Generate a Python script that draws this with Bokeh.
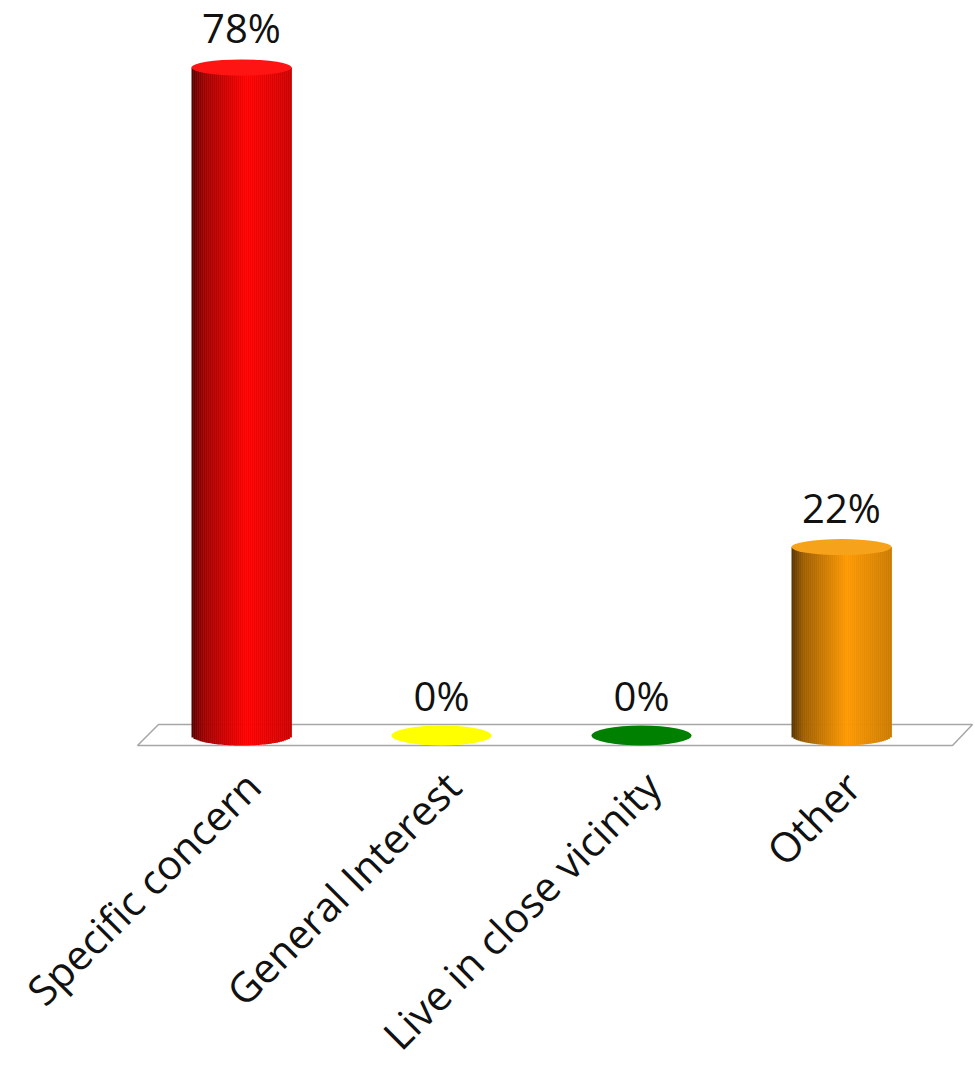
import numpy as np
from bokeh.plotting import figure
from bokeh.models import Range1d, ColumnDataSource
from bokeh.core.properties import value
from bokeh.embed import file_html
from bokeh.resources import INLINE

# ---- data ----
categories = ["Specific concern", "General Interest", "Live in close vicinity", "Other"]
percent = [78, 0, 0, 22]
value_labels = ["78%", "0%", "0%", "22%"]
bar_colors = ["#ff0000", "#ffff00", "#008000", "#ff9900"]
top_colors = ["#ff1414", "#ffff00", "#008000", "#f7a21b"]

# ---- layout constants (pixels) ----
W, H = 975, 1067
X0_PX, STEP_PX = 241, 200          # first category centre, spacing
BASE_PX = 735                      # screen y of 0 %
PX_PER_PCT = 668 / 78
R_PX = 50                          # cylinder radius (screen px)
RY_TOP_PX, RY_BOT_PX = 8, 10       # ellipse half heights
FONT = "Open Sans"

p = figure(width=W, height=H,
           x_range=Range1d(-X0_PX / STEP_PX, (W - X0_PX) / STEP_PX),
           y_range=Range1d(-(H - BASE_PX) / PX_PER_PCT, BASE_PX / PX_PER_PCT),
           output_backend="svg", toolbar_location=None,
           x_axis_location=None, y_axis_location=None,
           min_border=0, outline_line_color=None, background_fill_color="white")
p.grid.visible = False

n = len(categories)
xs = list(range(n))

# ---- floor (thin parallelogram) ----
fy_front = -RY_BOT_PX / PX_PER_PCT
fy_back = 11 / PX_PER_PCT
floor_x = [-0.52, -0.415, (n - 1) + 0.655, (n - 1) + 0.555]
floor_y = [fy_front, fy_back, fy_back, fy_front]
p.patch(floor_x, floor_y, fill_color="white", line_color="#a6a6a6", line_width=1.5)

# ---- cylinders built from thin shaded strips ----
def shade(hexcol, t):
    stops_t = [0.0, 0.12, 0.55, 1.0]
    stops_b = [0.34, 0.62, 1.0, 0.80]
    b = np.interp(t, stops_t, stops_b)
    r, g, bl = int(hexcol[1:3], 16), int(hexcol[3:5], 16), int(hexcol[5:7], 16)
    return "#%02x%02x%02x" % (int(r * b), int(g * b), int(bl * b))

NS = 50
rad = R_PX / STEP_PX
ryb = RY_BOT_PX / PX_PER_PCT
L, Rr, B, T, C = [], [], [], [], []
for i, v in enumerate(percent):
    if v <= 0:
        continue
    for k in range(NS):
        t = (k + 0.5) / NS
        dx = (t * 2 - 1) * rad
        L.append(xs[i] - rad + k * 2 * rad / NS)
        Rr.append(xs[i] - rad + (k + 1) * 2 * rad / NS + 0.002)
        B.append(-ryb * np.sqrt(max(0.0, 1 - (dx / rad) ** 2)))
        T.append(v)
        C.append(shade(bar_colors[i], t))
p.quad(left=L, right=Rr, bottom=B, top=T, fill_color=C, line_color=None)

# top faces / flat discs
ell = ColumnDataSource(dict(
    x=xs, y=percent,
    h=[2 * (RY_TOP_PX if v > 0 else RY_BOT_PX) for v in percent],
    c=top_colors))
p.ellipse(x="x", y="y", width=2 * R_PX, height="h", width_units="screen",
          height_units="screen", fill_color="c", line_color=None, source=ell)

# ---- value labels ----
p.text(x=xs, y=percent, text=value_labels, text_align="center",
       text_baseline="alphabetic", y_offset=-40, text_font=value(FONT),
       text_font_size="40px", text_color="#111111")

# ---- category labels (rotated) ----
p.text(x=xs, y=[0] * n, text=categories, angle=np.pi / 4, text_align="right",
       text_baseline="alphabetic", x_offset=11, y_offset=43,
       text_font=value(FONT), text_font_size="41px", text_color="#111111")

open("out.html", "w").write(file_html(p, INLINE))
